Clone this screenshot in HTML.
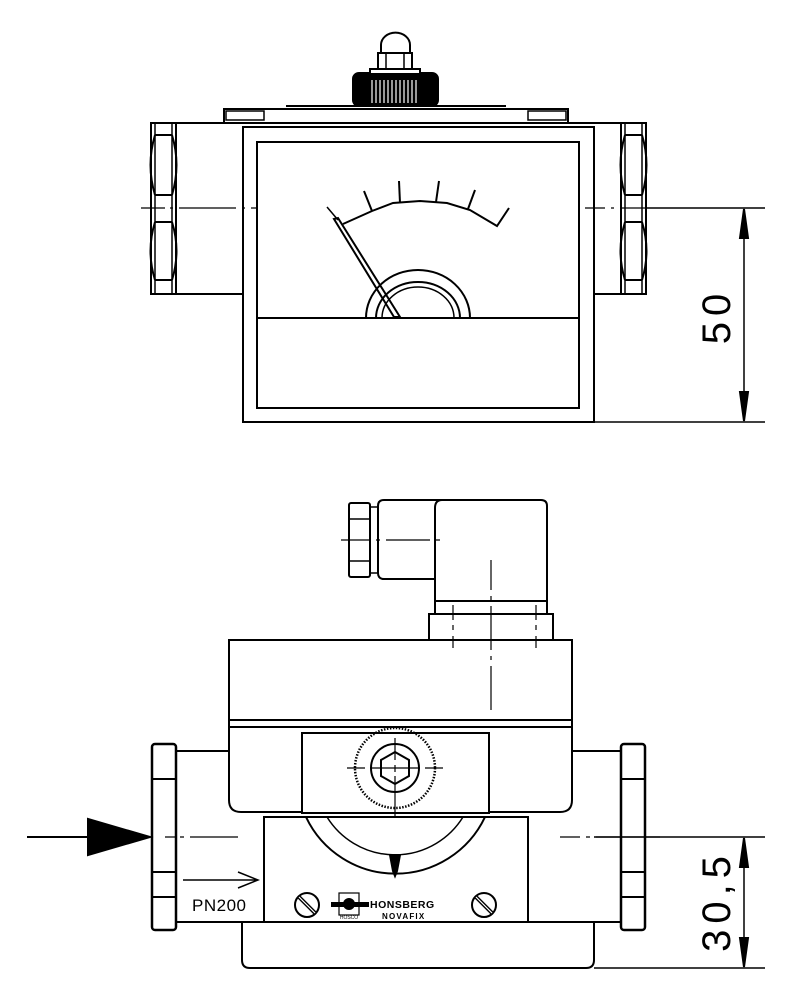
<!DOCTYPE html>
<html><head><meta charset="utf-8"><style>html,body{margin:0;padding:0;background:#fff}svg{display:block}</style></head>
<body>
<svg width="797" height="1000" viewBox="0 0 797 1000" xmlns="http://www.w3.org/2000/svg" fill="none" stroke="#000" stroke-width="2">
<!-- ============ TOP VIEW ============ -->
<line x1="151" y1="123" x2="646" y2="123"/>
<line x1="151" y1="294" x2="243" y2="294"/>
<line x1="594" y1="294" x2="646" y2="294"/>
<rect x="151" y="123" width="25" height="171"/>
<line x1="155" y1="123" x2="155" y2="294" stroke-width="1.5"/>
<line x1="172" y1="123" x2="172" y2="294" stroke-width="1.5"/>
<line x1="155" y1="135" x2="172" y2="135"/><line x1="155" y1="195" x2="172" y2="195"/>
<line x1="155" y1="222" x2="172" y2="222"/><line x1="155" y1="280" x2="172" y2="280"/>
<path d="M155 135 Q146 165 155 195 M172 135 Q181 165 172 195 M155 222 Q146 251 155 280 M172 222 Q181 251 172 280"/>
<rect x="621" y="123" width="25" height="171"/>
<line x1="625" y1="123" x2="625" y2="294" stroke-width="1.5"/>
<line x1="642" y1="123" x2="642" y2="294" stroke-width="1.5"/>
<line x1="625" y1="135" x2="642" y2="135"/><line x1="625" y1="195" x2="642" y2="195"/>
<line x1="625" y1="222" x2="642" y2="222"/><line x1="625" y1="280" x2="642" y2="280"/>
<path d="M625 135 Q616 165 625 195 M642 135 Q651 165 642 195 M625 222 Q616 251 625 280 M642 222 Q651 251 642 280"/>
<rect x="224" y="109" width="344" height="14"/>
<rect x="226" y="111" width="38" height="9" stroke-width="1.5"/>
<rect x="528" y="111" width="38" height="9" stroke-width="1.5"/>
<line x1="286" y1="106" x2="506" y2="106" stroke-width="2"/>
<rect x="353" y="73" width="85" height="33" rx="6" fill="#000"/>
<g stroke="#fff" stroke-width="1.2">
<line x1="372" y1="80" x2="372" y2="103"/><line x1="376" y1="80" x2="376" y2="103"/><line x1="380" y1="80" x2="380" y2="103"/><line x1="384" y1="80" x2="384" y2="103"/><line x1="388" y1="80" x2="388" y2="103"/><line x1="392" y1="80" x2="392" y2="103"/><line x1="396" y1="80" x2="396" y2="103"/><line x1="400" y1="80" x2="400" y2="103"/><line x1="404" y1="80" x2="404" y2="103"/><line x1="408" y1="80" x2="408" y2="103"/><line x1="412" y1="80" x2="412" y2="103"/><line x1="416" y1="80" x2="416" y2="103"/>
</g>
<rect x="370" y="69" width="50" height="5" fill="#fff"/>
<rect x="378" y="53" width="34" height="16" fill="#fff"/>
<line x1="386" y1="53" x2="386" y2="69" stroke-width="1.5"/><line x1="404" y1="53" x2="404" y2="69" stroke-width="1.5"/>
<path d="M381 53 L381 45 A14 12 0 0 1 410 45 L410 53 Z" fill="#fff"/>
<rect x="243" y="127" width="351" height="295"/>
<rect x="257" y="142" width="322" height="266"/>
<line x1="257" y1="318" x2="579" y2="318"/>
<path d="M343 224 L372 211 L393 203 L420 201 L447 203 L470 210 L497 226 L509 208"/>
<line x1="372" y1="211" x2="364" y2="191"/>
<line x1="400" y1="203" x2="399" y2="181"/>
<line x1="436" y1="202" x2="439" y2="181"/>
<line x1="468" y1="209" x2="475" y2="190"/>
<line x1="327" y1="207" x2="338" y2="220" stroke-width="1.5"/>
<path d="M334 219 L338 218 L400 317 L394 317 Z"/>
<path d="M366 318 A52 48 0 0 1 470 318"/>
<path d="M376 318 A42 36 0 0 1 460 318"/>
<path d="M382 318 A36 31 0 0 1 454 318" stroke-width="1.5"/>
<path d="M141 208 H165 M170 208 H173 M179 208 H236 M242 208 H245 M251 208 H256 M585 208 H605 M611 208 H614 M620 208 H646" stroke-width="1.2"/>
<line x1="646" y1="208" x2="765" y2="208" stroke-width="1.5"/>
<line x1="594" y1="422" x2="765" y2="422" stroke-width="1.5"/>
<line x1="744" y1="210" x2="744" y2="420" stroke-width="1.5"/>
<path d="M744 209 L740 238 L748 238 Z M744 421 L740 392 L748 392 Z" fill="#000"/>
<text x="0" y="0" transform="translate(730 316) rotate(-90)" font-family="Liberation Sans, sans-serif" font-size="40" fill="#000" stroke="none" text-anchor="middle" letter-spacing="6">50</text>

<!-- ============ BOTTOM VIEW ============ -->
<rect x="349" y="503" width="21" height="74" rx="2"/>
<line x1="349" y1="519" x2="370" y2="519" stroke-width="1.5"/><line x1="349" y1="561" x2="370" y2="561" stroke-width="1.5"/>
<rect x="370" y="507" width="8" height="66" stroke-width="1.5"/>
<path d="M435 579 H384 Q378 579 378 573 V506 Q378 500 384 500 H541 Q547 500 547 506 V601 H435 Z"/>
<line x1="435" y1="508" x2="435" y2="601"/>
<path d="M435 508 Q435 500 442 500"/>
<rect x="435" y="601" width="112" height="13"/>
<rect x="429" y="614" width="124" height="26"/>
<path d="M341 540 H370 M376 540 H380 M386 540 H430 M436 540 H440" stroke-width="1.2"/>
<path d="M491 560 V590 M491 596 V600 M491 606 V650 M491 656 V660 M491 666 V710" stroke-width="1.2"/>
<path d="M453 605 V620 M453 625 V630 M453 636 V648 M536 605 V620 M536 625 V630 M536 636 V648" stroke-width="1.2"/>
<rect x="229" y="640" width="343" height="80"/>
<line x1="229" y1="727" x2="572" y2="727"/>
<path d="M229 720 V800 Q229 812 241 812 H302 M489 812 H560 Q572 812 572 800 V720"/>
<path d="M176 751 H229 M572 751 H621 M176 922 H264 M528 922 H621"/>
<rect x="152" y="744" width="24" height="186" rx="3" stroke-width="2.5"/>
<line x1="152" y1="779" x2="176" y2="779"/><line x1="152" y1="872" x2="176" y2="872"/><line x1="152" y1="897" x2="176" y2="897"/>
<rect x="621" y="744" width="24" height="186" rx="3" stroke-width="2.5"/>
<line x1="621" y1="779" x2="645" y2="779"/><line x1="621" y1="872" x2="645" y2="872"/><line x1="621" y1="897" x2="645" y2="897"/>
<rect x="302" y="733" width="187" height="80"/>
<circle cx="395" cy="768" r="40" stroke-dasharray="1.5 1.5" stroke-width="2.5"/>
<circle cx="395" cy="768" r="24"/>
<path d="M395 752 L409 760 L409 776 L395 784 L381 776 L381 760 Z"/>
<path d="M395 738 V760 M395 765 V772 M395 776 V818 M347 768 H365 M370 768 H420 M425 768 H443" stroke-width="1.2"/>
<rect x="264" y="817" width="264" height="105"/>
<path d="M306 817 A99 99 0 0 0 485 817"/>
<path d="M327 817 A80 80 0 0 0 463 817" stroke-width="1.5"/>
<path d="M390 855 H400 L397 871 L395 876 L393 871 Z" fill="#000"/>
<path d="M242 922 V960 Q242 968 250 968 H586 Q594 968 594 960 V922"/>
<path d="M165 837 H175 M180 837 H184 M190 837 H238 M560 837 H580 M586 837 H590 M596 837 H660" stroke-width="1.2"/>
<line x1="27" y1="837" x2="92" y2="837"/>
<path d="M88 819 L150 837 L88 855 Z" fill="#000"/>
<path d="M183 880 H258 M238 872 L258 880 L238 888" stroke-width="1.5"/>
<text x="192" y="911" font-family="Liberation Sans, sans-serif" font-size="17" fill="#000" stroke="none" letter-spacing="0.5">PN200</text>
<circle cx="307" cy="905" r="12"/><line x1="299" y1="897" x2="315" y2="913" stroke-width="4"/><line x1="299" y1="897" x2="315" y2="913" stroke="#fff" stroke-width="1.2"/>
<circle cx="484" cy="905" r="12"/><line x1="476" y1="897" x2="492" y2="913" stroke-width="4"/><line x1="476" y1="897" x2="492" y2="913" stroke="#fff" stroke-width="1.2"/>
<rect x="339" y="893" width="20" height="22" stroke-width="1.2"/>
<rect x="331" y="902" width="38" height="5" fill="#000" stroke="none"/>
<circle cx="349" cy="904" r="6" fill="#000" stroke="none"/>
<text x="349" y="919" font-family="Liberation Sans, sans-serif" font-size="5" fill="#000" stroke="none" text-anchor="middle">HOSCO</text>
<text x="370" y="908" font-family="Liberation Sans, sans-serif" font-size="10.5" font-weight="bold" fill="#000" stroke="none" letter-spacing="0.5">HONSBERG</text>
<text x="382" y="919" font-family="Liberation Sans, sans-serif" font-size="8" font-weight="bold" fill="#000" stroke="none" letter-spacing="1.2">NOVAFIX</text>
<line x1="594" y1="837" x2="765" y2="837" stroke-width="1.5"/>
<line x1="594" y1="968" x2="765" y2="968" stroke-width="1.5"/>
<line x1="744" y1="839" x2="744" y2="966" stroke-width="1.5"/>
<path d="M744 838 L740 867 L748 867 Z M744 967 L740 938 L748 938 Z" fill="#000"/>
<text x="0" y="0" transform="translate(730 901) rotate(-90)" font-family="Liberation Sans, sans-serif" font-size="40" fill="#000" stroke="none" text-anchor="middle" letter-spacing="6">30,5</text>
</svg>
</body></html>
